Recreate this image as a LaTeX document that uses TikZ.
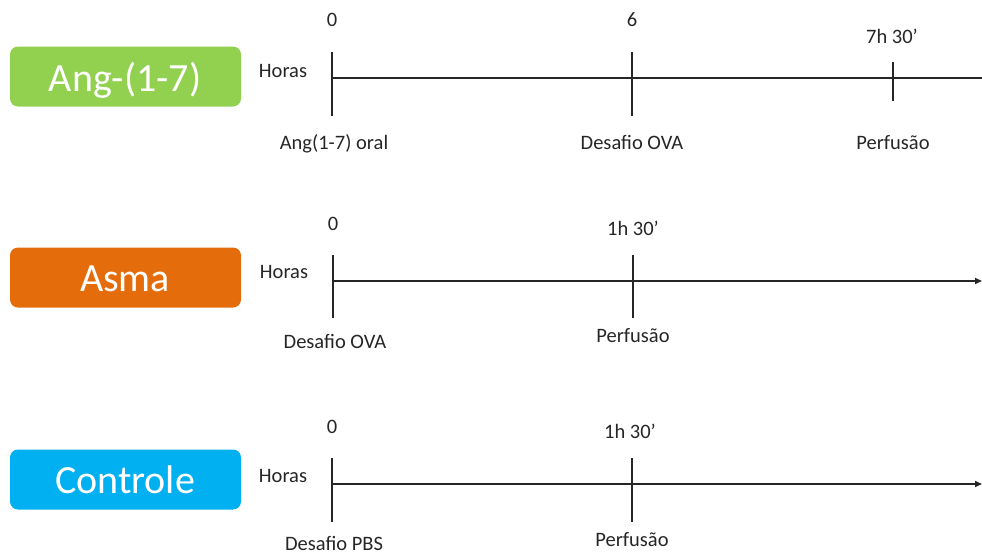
\documentclass[tikz,border=0pt]{standalone}
\usepackage{fontspec}
\setmainfont{Carlito}
\usetikzlibrary{arrows.meta}
\definecolor{angGreen}{HTML}{92D050}
\definecolor{asmaOrange}{HTML}{E46C0A}
\definecolor{ctrlBlue}{HTML}{00B0F0}
\definecolor{ink}{HTML}{262626}
\begin{document}
\begin{tikzpicture}[x=1pt,y=-1pt,
  groupbox/.style={rounded corners=8pt, minimum width=231pt, minimum height=60pt, inner sep=0pt, draw=none},
  boxtext/.style={anchor=base, text=white, font=\fontsize{40}{48}\selectfont, inner sep=0pt},
  lbl/.style={anchor=base, text=ink, font=\fontsize{20.5}{24}\selectfont, inner sep=0pt},
  axisline/.style={line width=1.6pt, draw=ink},
  arrowaxis/.style={axisline, -{Triangle[length=7pt,width=6pt]}},
  tickline/.style={line width=1.2pt, draw=ink}]
\useasboundingbox (0,0) rectangle (982,554);

% ---------- Ang-(1-7) ----------
\node[groupbox, fill=angGreen] (g1) at (125.5,76.5) {};
\node[boxtext] (g1t) at (125,91) {Ang-(1-7)};
\node[lbl] (h1) at (283,77) {Horas};
\coordinate (a1s) at (332,78);
\coordinate (a1e) at (982,78);
\coordinate (t1at) at (332,52);  \coordinate (t1ab) at (332,116);
\coordinate (t1bt) at (632,52);  \coordinate (t1bb) at (632,116);
\coordinate (t1ct) at (893,62);  \coordinate (t1cb) at (893,101);
\draw[axisline] (a1s) -- (a1e);
\draw[tickline] (t1at) -- (t1ab);
\draw[tickline] (t1bt) -- (t1bb);
\draw[tickline] (t1ct) -- (t1cb);
\node[lbl] (n1a) at (332,27) {0};
\node[lbl] (n1b) at (632,27) {6};
\node[lbl] (n1c) at (892,43) {7h 30’};
\node[lbl] (e1a) at (334,149) {Ang(1-7) oral};
\node[lbl] (e1b) at (632,149) {Desafio OVA};
\node[lbl] (e1c) at (893,149) {Perfusão};

% ---------- Asma ----------
\node[groupbox, fill=asmaOrange] (g2) at (125.5,277.5) {};
\node[boxtext] (g2t) at (125,291) {Asma};
\node[lbl] (h2) at (284,278) {Horas};
\coordinate (a2s) at (333,281);
\coordinate (a2e) at (982,281);
\coordinate (t2at) at (333,255);  \coordinate (t2ab) at (333,318);
\coordinate (t2bt) at (633,255);  \coordinate (t2bb) at (633,318);
\draw[arrowaxis] (a2s) -- (a2e);
\draw[tickline] (t2at) -- (t2ab);
\draw[tickline] (t2bt) -- (t2bb);
\node[lbl] (n2a) at (333,230) {0};
\node[lbl] (n2b) at (633,235) {1h 30’};
\node[lbl] (e2a) at (335,348) {Desafio OVA};
\node[lbl] (e2b) at (633,342) {Perfusão};

% ---------- Controle ----------
\node[groupbox, fill=ctrlBlue] (g3) at (125.5,479.5) {};
\node[boxtext] (g3t) at (125,493) {Controle};
\node[lbl] (h3) at (283,482) {Horas};
\coordinate (a3s) at (332,484);
\coordinate (a3e) at (982,484);
\coordinate (t3at) at (332,458);  \coordinate (t3ab) at (332,522);
\coordinate (t3bt) at (632,458);  \coordinate (t3bb) at (632,522);
\draw[arrowaxis] (a3s) -- (a3e);
\draw[tickline] (t3at) -- (t3ab);
\draw[tickline] (t3bt) -- (t3bb);
\node[lbl] (n3a) at (332,433) {0};
\node[lbl] (n3b) at (630,438) {1h 30’};
\node[lbl] (e3a) at (334,550) {Desafio PBS};
\node[lbl] (e3b) at (632,546) {Perfusão};
\end{tikzpicture}
\end{document}
